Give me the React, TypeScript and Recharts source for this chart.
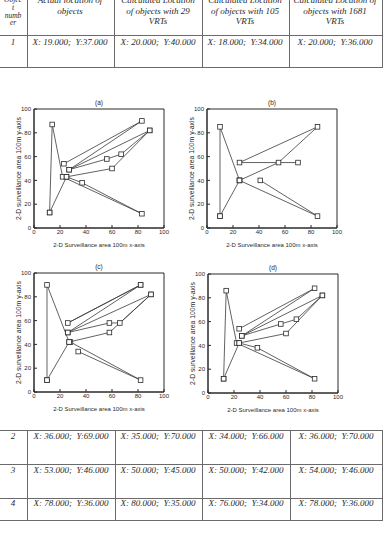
import { ScatterChart, Scatter, XAxis, YAxis, ReferenceArea } from "recharts"

type Pt = { x: number; y: number }
const toPts = (arr: number[][]): Pt[] => arr.map(([x, y]) => ({ x, y }))

// table values
const headerCols = [
  ["Objec", "t", "numb", "er"],
  ["Actual location of", "objects"],
  ["Calculated Location", "of objects with 29", "VRTs"],
  ["Calculated Location", "of objects with 105", "VRTs"],
  ["Calculated Location of", "objects with 1681", "VRTs"],
]
const objectNo = ["1", "2", "3", "4"]
const actualLoc = [[19, 37], [36, 69], [53, 46], [78, 36]]
const vrt29Loc = [[20, 40], [35, 70], [50, 45], [80, 35]]
const vrt105Loc = [[18, 34], [34, 66], [50, 42], [76, 34]]
const vrt1681Loc = [[20, 36], [36, 70], [54, 46], [78, 36]]

// chart (a) paths
const a1 = toPts([[12, 13], [14, 87], [22, 43], [83, 12], [37, 38], [25, 43], [12, 13]])
const a2 = toPts([[25, 43], [60, 50], [89, 82], [67, 62], [56, 58], [27, 49], [89, 82]])
const a3 = toPts([[27, 49], [83, 90], [23, 54]])

// chart (b) paths
const b1 = toPts([[10, 10], [10, 85], [25, 40], [10, 10]])
const b2 = toPts([[25, 40], [85, 10], [41, 40]])
const b3 = toPts([[25, 40], [55, 55], [85, 85], [25, 55], [70, 55]])

// chart (c) paths
const c1 = toPts([[10, 10], [10, 90], [27, 42], [10, 10]])
const c2 = toPts([[28, 42], [82, 10], [34, 34]])
const c3 = toPts([[27, 42], [58, 50], [90, 82], [66, 58], [58, 58], [26, 50], [90, 82]])
const c4 = toPts([[26, 50], [82, 90], [26, 58], [82, 90]])

// chart (d) paths
const d1 = toPts([[12, 12], [14, 86], [22, 42], [82, 12], [38, 38], [24, 42], [12, 12]])
const d2 = toPts([[24, 42], [60, 50], [88, 82], [68, 62], [56, 58], [26, 48], [88, 82]])
const d3 = toPts([[26, 48], [82, 88], [24, 54]])

const axisTicks = [0, 20, 40, 60, 80, 100]

const ink = "#2a2a2a"
const rule = "#6a6a6a"
const serif = "'Liberation Serif', 'Times New Roman', serif"
const sans = "'Liberation Sans', Arial, sans-serif"

function fmt(p: number[]) {
  return `X: ${p[0].toFixed(3)};  Y:${p[1].toFixed(3)}`
}

// small hollow square marker, like matlab 's'
const SquareMark = (props: any) => {
  const { cx, cy } = props
  if (cx == null || cy == null) return null
  const s = 4.6
  return <rect x={cx - s / 2} y={cy - s / 2} width={s} height={s} fill="#fff" stroke={ink} strokeWidth={0.8} />
}

function Panel({ title, paths, left, top }: { title: string; paths: Pt[][]; left: number; top: number }) {
  return (
    <div style={{ position: "absolute", left: left - 34, top: top - 20, fontFamily: sans }}>
      <ScatterChart width={200} height={165} margin={{ top: 20, right: 36, bottom: 2, left: 16 }}>
        <XAxis
          type="number"
          dataKey="x"
          domain={[0, 100]}
          ticks={axisTicks}
          height={24}
          tickSize={-3}
          tickMargin={5}
          tick={{ fontSize: 6, fill: ink, fontFamily: sans }}
          stroke={ink}
          label={{ value: "2-D Surveillance area 100m x-axis", position: "insideBottom", offset: 5, style: { fontSize: 6, fill: ink, fontFamily: sans } }}
        />
        <YAxis
          type="number"
          dataKey="y"
          domain={[0, 100]}
          ticks={axisTicks}
          width={18}
          tickSize={-3}
          tickMargin={6}
          tick={{ fontSize: 6, fill: ink, fontFamily: sans }}
          stroke={ink}
          label={{
            value: "2-D surveillance area 100m y-axis",
            angle: -90,
            position: "insideLeft",
            offset: 3,
            style: { textAnchor: "middle", fontSize: 6.8, fill: ink, fontFamily: sans },
          }}
        />
        <ReferenceArea
          x1={0}
          x2={100}
          y1={0}
          y2={100}
          fill="none"
          fillOpacity={0}
          stroke={ink}
          strokeOpacity={1}
          label={{ value: title, position: "top", offset: 4, style: { fontSize: 6.5, fill: ink, fontFamily: sans } }}
        />
        {paths.map((p, i) => (
          <Scatter
            key={i}
            data={p}
            shape={SquareMark}
            line={{ stroke: "#3a3a3a", strokeWidth: 0.8 }}
            lineType="joint"
            isAnimationActive={false}
          />
        ))}
      </ScatterChart>
    </div>
  )
}

const colLinesTop = [27, 114, 202, 289, 382]
const colLinesBottom = [27, 115, 202, 290, 382]
const colCentersTop = [13, 70, 158, 245, 335]
const colCentersBottom = [13, 71, 158, 246, 336]

function HLine({ y, x1, x2 }: { y: number; x1: number; x2: number }) {
  return <div style={{ position: "absolute", left: x1, top: y, width: x2 - x1, height: 1, background: rule }} />
}
function VLine({ x, y1, y2 }: { x: number; y1: number; y2: number }) {
  return <div style={{ position: "absolute", left: x, top: y1, width: 1, height: y2 - y1, background: rule }} />
}

function Cell({ cx, cy, text }: { cx: number; cy: number; text: string }) {
  return (
    <div
      style={{
        position: "absolute",
        left: cx - 60,
        top: cy - 6,
        width: 120,
        height: 12,
        lineHeight: "12px",
        textAlign: "center",
        fontFamily: serif,
        fontStyle: "italic",
        fontSize: 9,
        whiteSpace: "pre",
        color: ink,
      }}
    >
      {text}
    </div>
  )
}

export default function App() {
  const rowsBottom = [1, 2, 3]
  const rowY = [436, 470, 503]
  return (
    <div style={{ position: "absolute", left: 0, top: 0, width: 389, height: 540, overflow: "hidden", background: "#fff" }}>
      {/* header of table, top line cut by the page edge */}
      {headerCols.map((lines, i) => (
        <div
          key={i}
          style={{
            position: "absolute",
            left: colCentersTop[i] - 50,
            top: i === 0 ? -4 : -5,
            width: 100,
            textAlign: "center",
            fontFamily: serif,
            fontStyle: "italic",
            fontSize: i === 0 ? 7.5 : 9,
            lineHeight: i === 0 ? "7.8px" : "10.6px",
            color: ink,
          }}
        >
          {lines.map((l, j) => (
            <div key={j}>{l}</div>
          ))}
        </div>
      ))}
      <HLine y={35} x1={0} x2={383} />
      <HLine y={67} x1={0} x2={383} />
      {colLinesTop.map((x) => (
        <VLine key={x} x={x} y1={0} y2={67} />
      ))}
      <Cell cx={colCentersTop[0]} cy={42} text={objectNo[0]} />
      <Cell cx={colCentersTop[1]} cy={42} text={fmt(actualLoc[0])} />
      <Cell cx={colCentersTop[2]} cy={42} text={fmt(vrt29Loc[0])} />
      <Cell cx={colCentersTop[3]} cy={42} text={fmt(vrt105Loc[0])} />
      <Cell cx={colCentersTop[4]} cy={42} text={fmt(vrt1681Loc[0])} />

      <Panel title="(a)" paths={[a1, a2, a3]} left={34} top={109} />
      <Panel title="(b)" paths={[b1, b2, b3]} left={207} top={109} />
      <Panel title="(c)" paths={[c1, c2, c3, c4]} left={34} top={273} />
      <Panel title="(d)" paths={[d1, d2, d3]} left={208} top={274} />

      {/* bottom part of table */}
      <HLine y={430} x1={0} x2={383} />
      <HLine y={464} x1={0} x2={383} />
      <HLine y={498} x1={0} x2={383} />
      <HLine y={520} x1={0} x2={383} />
      {colLinesBottom.map((x) => (
        <VLine key={x} x={x} y1={430} y2={521} />
      ))}
      {rowsBottom.map((r, k) => (
        <div key={r}>
          <Cell cx={colCentersBottom[0]} cy={rowY[k]} text={objectNo[r]} />
          <Cell cx={colCentersBottom[1]} cy={rowY[k]} text={fmt(actualLoc[r])} />
          <Cell cx={colCentersBottom[2]} cy={rowY[k]} text={fmt(vrt29Loc[r])} />
          <Cell cx={colCentersBottom[3]} cy={rowY[k]} text={fmt(vrt105Loc[r])} />
          <Cell cx={colCentersBottom[4]} cy={rowY[k]} text={fmt(vrt1681Loc[r])} />
        </div>
      ))}
    </div>
  )
}
